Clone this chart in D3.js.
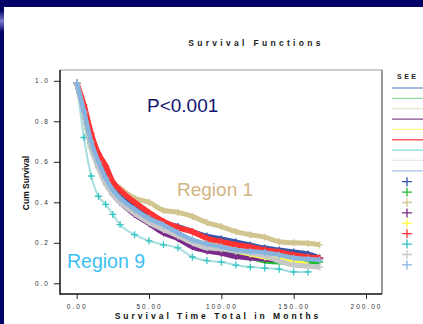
<!DOCTYPE html>
<html>
<head>
<meta charset="utf-8">
<script src="https://cdn.jsdelivr.net/npm/d3@7"></script>
<style>
  html, body { margin: 0; padding: 0; background: #fff; }
  svg { display: block; font-family: "Liberation Sans", Arial, sans-serif; }
</style>
</head>
<body>
<div id="chart"></div>
<script>
const months = [0, 5, 10, 15, 20, 25, 30, 40, 50, 60, 70, 80, 90, 100, 110, 120, 130, 140, 150, 160, 168];

// cumulative survival per region (null = curve has ended), legend order
const survBlue      = [0.99, 0.86, 0.72, 0.62, 0.55, 0.49, 0.45, 0.39, 0.34, 0.30, 0.28, 0.255, 0.233, 0.219, 0.204, 0.189, 0.174, 0.164, 0.155, 0.145, 0.125];
const survGreen     = [0.99, 0.84, 0.67, 0.58, 0.50, 0.45, 0.41, 0.35, 0.31, 0.27, 0.235, 0.20, 0.18, 0.165, 0.15, 0.13, 0.11, 0.105, 0.105, 0.105, 0.105];
const survTan       = [0.99, 0.85, 0.71, 0.64, 0.58, 0.50, 0.47, 0.42, 0.40, 0.36, 0.35, 0.33, 0.30, 0.28, 0.255, 0.24, 0.228, 0.205, 0.20, 0.198, 0.19];
const survPurple    = [0.99, 0.84, 0.68, 0.58, 0.50, 0.44, 0.40, 0.34, 0.295, 0.248, 0.22, 0.18, 0.16, 0.148, 0.132, 0.125, 0.12, 0.115, null, null, null];
const survYellow    = [0.99, 0.84, 0.68, 0.58, 0.50, 0.45, 0.41, 0.35, 0.31, 0.27, 0.235, 0.21, 0.195, 0.18, 0.16, 0.145, 0.13, 0.12, 0.11, 0.09, null];
const survRed       = [0.99, 0.88, 0.74, 0.64, 0.58, 0.50, 0.46, 0.40, 0.35, 0.305, 0.275, 0.255, 0.222, 0.206, 0.19, 0.179, 0.165, 0.155, 0.14, 0.13, 0.125];
const survCyan      = [0.99, 0.72, 0.53, 0.43, 0.39, 0.34, 0.29, 0.24, 0.21, 0.19, 0.175, 0.13, 0.112, 0.105, 0.09, 0.08, 0.075, 0.07, 0.056, 0.056, null];
const survGray      = [0.99, 0.84, 0.67, 0.57, 0.49, 0.44, 0.40, 0.345, 0.30, 0.265, 0.235, 0.20, 0.175, 0.17, 0.16, 0.15, 0.135, 0.11, 0.09, 0.085, 0.08];
const survLightBlue = [0.99, 0.85, 0.70, 0.60, 0.52, 0.46, 0.42, 0.365, 0.32, 0.288, 0.25, 0.215, 0.195, 0.18, 0.165, 0.158, 0.152, 0.14, 0.125, 0.12, 0.115];

const xTicks = [0, 50, 100, 150, 200];
const yTicks = [0, 0.2, 0.4, 0.6, 0.8, 1.0];

const lineColors   = ['#8c9ed4', '#8fdf9f', '#e9e3cc', '#8a4a98', '#ffff80', '#ff5c5c', '#7fe0e0', '#e8e8e8', '#a8c4e4'];
const markerColors = ['#3355aa', '#22bb33', '#d2c690', '#7a2a8a', '#ffff44', '#ff3333', '#33c4c4', '#c8c8c8', '#88b4e0'];
const strokeWidths = [5, 5, 5, 5, 5, 5.5, 2, 5, 4.5];

const series = [survBlue, survGreen, survTan, survPurple, survYellow, survRed, survCyan, survGray, survLightBlue];

const width = 423, height = 324;
const svg = d3.select('#chart').append('svg')
  .attr('width', width).attr('height', height);

// slide background strips
svg.append('rect').attr('x', 0).attr('y', 0).attr('width', width).attr('height', 7).attr('fill', '#000066');
svg.append('rect').attr('x', 0).attr('y', 0).attr('width', 4).attr('height', height).attr('fill', '#000066');
const grad = svg.append('defs').append('linearGradient').attr('id', 'glow').attr('x1', 0).attr('x2', 0).attr('y1', 0).attr('y2', 1);
grad.append('stop').attr('offset', '0%').attr('stop-color', '#000066');
grad.append('stop').attr('offset', '50%').attr('stop-color', '#7a7ad0');
grad.append('stop').attr('offset', '100%').attr('stop-color', '#000066');
svg.append('rect').attr('x', 0).attr('y', 10).attr('width', 4).attr('height', 22).attr('fill', 'url(#glow)');

const x = d3.scaleLinear().domain([0, 200]).range([76.7, 366]);
const y = d3.scaleLinear().domain([0, 1]).range([283.3, 80.8]);

// frame
svg.append('line').attr('x1', 60).attr('x2', 382).attr('y1', 70).attr('y2', 70).attr('stroke', '#999').attr('stroke-width', 1);
svg.append('line').attr('x1', 382).attr('x2', 382).attr('y1', 70).attr('y2', 294).attr('stroke', '#555').attr('stroke-width', 1.2);
svg.append('line').attr('x1', 60).attr('x2', 60).attr('y1', 70).attr('y2', 294.7).attr('stroke', '#111').attr('stroke-width', 1.5);
svg.append('line').attr('x1', 60).attr('x2', 382).attr('y1', 294).attr('y2', 294).attr('stroke', '#111').attr('stroke-width', 1.5);

// axes
const xAxis = svg.append('g').attr('transform', 'translate(0,294)')
  .call(d3.axisBottom(x).tickValues(xTicks).tickFormat(d3.format('.2f')).tickSize(5).tickPadding(5));
const yAxis = svg.append('g').attr('transform', 'translate(60,0)')
  .call(d3.axisLeft(y).tickValues(yTicks).tickFormat(d3.format('.1f')).tickSize(6).tickPadding(4));
[xAxis, yAxis].forEach(a => {
  a.select('.domain').remove();
  a.selectAll('line').attr('stroke', '#222');
  a.selectAll('text').attr('fill', '#333').style('font-size', '6.5px').style('letter-spacing', '2px')
    .style('font-family', '"Liberation Sans", Arial, sans-serif');
});

// titles
svg.append('text').attr('x', 256).attr('y', 46).attr('text-anchor', 'middle')
  .style('font-size', '8.5px').style('font-weight', 'bold').style('letter-spacing', '3.3px')
  .attr('fill', '#222').text('Survival Functions');
svg.append('text').attr('x', 218).attr('y', 319).attr('text-anchor', 'middle')
  .style('font-size', '8.5px').style('font-weight', 'bold').style('letter-spacing', '3px')
  .attr('fill', '#111').text('Survival Time Total in Months');
svg.append('text').attr('transform', 'translate(29,183) rotate(-90)').attr('text-anchor', 'middle')
  .style('font-size', '8.5px').style('font-weight', 'bold')
  .attr('fill', '#111').text('Cum Survival');

// curves
const line = d3.line()
  .defined(d => d[1] !== null)
  .x(d => x(d[0])).y(d => y(d[1]))
  .curve(d3.curveMonotoneX);
const plus = 'M-3.5,0H3.5M0,-3.5V3.5';

series.forEach((vals, i) => {
  const pts = months.map((m, j) => [m, vals[j]]).filter(d => d[1] !== null);
  const isCyan = i === 6;
  svg.append('path').datum(pts)
    .attr('fill', 'none')
    .attr('stroke', isCyan ? '#a8dede' : markerColors[i])
    .attr('stroke-width', strokeWidths[i])
    .attr('d', line);
  svg.append('g').selectAll('path').data(pts).join('path')
    .attr('transform', d => `translate(${x(d[0])},${y(d[1])})`)
    .attr('d', plus)
    .attr('stroke', markerColors[i])
    .attr('stroke-width', 1.3)
    .attr('fill', 'none');
});

// annotations
svg.append('text').attr('x', 147).attr('y', 112).style('font-size', '19px')
  .attr('fill', '#141470').text('P<0.001');
svg.append('text').attr('x', 177).attr('y', 196).style('font-size', '19px')
  .attr('fill', '#d4b584').text('Region 1');
svg.append('text').attr('x', 67).attr('y', 268).style('font-size', '19.5px')
  .attr('fill', '#3cc0f2').text('Region 9');

// legend (labels run off the slide)
svg.append('text').attr('x', 397).attr('y', 79)
  .style('font-size', '7px').style('font-weight', 'bold').style('letter-spacing', '2.5px')
  .attr('fill', '#222').text('SEE');
const legLines = svg.append('g');
lineColors.forEach((c, i) => {
  legLines.append('line').attr('x1', 392).attr('x2', 430)
    .attr('y1', 88 + i * 10.35).attr('y2', 88 + i * 10.35)
    .attr('stroke', c).attr('stroke-width', 1.3);
});
markerColors.forEach((c, i) => {
  legLines.append('path').attr('transform', `translate(407,${181.7 + i * 10.4})`)
    .attr('d', 'M-5,0H5M0,-4.5V4.5').attr('stroke', c).attr('stroke-width', 1.3).attr('fill', 'none');
});
</script>
</body>
</html>
